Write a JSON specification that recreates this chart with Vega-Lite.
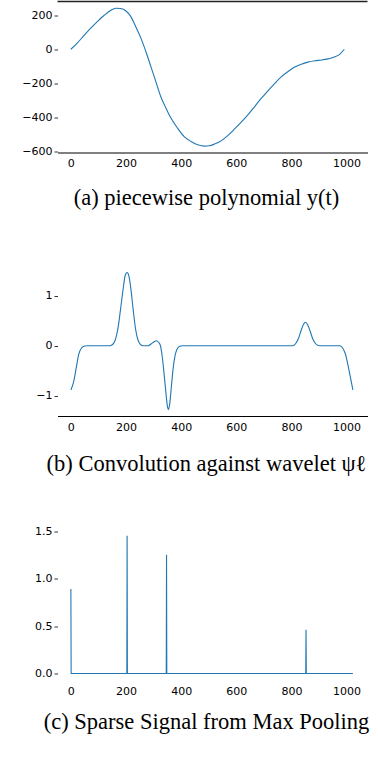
{
  "$schema": "https://vega.github.io/schema/vega-lite/v6.json",
  "autosize": {"type": "pad"},
  "padding": {"left": 21.5, "top": 0.5, "right": 5, "bottom": 0},
  "background": "white",
  "spacing": 112.5,
  "bounds": "flush",
  "config": {
    "view": {"stroke": null},
    "axis": {"labelFont": "DejaVu Sans", "labelFontSize": 11, "labelColor": "#000", "labelOverlap": false, "labelBound": false, "labelFlush": false, "grid": false, "title": null, "domainColor": "#000", "tickColor": "#000"},
    "title": {"font": "Liberation Serif", "fontSize": 22.5, "fontWeight": "normal", "color": "#000"}
  },
  "datasets": {
    "a": [
      {"t": 0, "y": 0}, {"t": 23, "y": 36}, {"t": 47, "y": 79}, {"t": 72, "y": 123}, {"t": 96, "y": 162},
      {"t": 120, "y": 197}, {"t": 144, "y": 227}, {"t": 163, "y": 240}, {"t": 181, "y": 238}, {"t": 199, "y": 225},
      {"t": 217, "y": 192}, {"t": 235, "y": 133}, {"t": 254, "y": 65}, {"t": 272, "y": -13}, {"t": 290, "y": -100},
      {"t": 308, "y": -188}, {"t": 326, "y": -276}, {"t": 345, "y": -344}, {"t": 363, "y": -402}, {"t": 387, "y": -461},
      {"t": 411, "y": -510}, {"t": 436, "y": -539}, {"t": 460, "y": -558}, {"t": 484, "y": -566}, {"t": 502, "y": -564},
      {"t": 521, "y": -554}, {"t": 545, "y": -535}, {"t": 569, "y": -504}, {"t": 593, "y": -467}, {"t": 618, "y": -426},
      {"t": 642, "y": -383}, {"t": 666, "y": -336}, {"t": 691, "y": -286}, {"t": 715, "y": -243}, {"t": 739, "y": -200},
      {"t": 763, "y": -161}, {"t": 788, "y": -130}, {"t": 812, "y": -104}, {"t": 836, "y": -87}, {"t": 860, "y": -75},
      {"t": 885, "y": -67}, {"t": 909, "y": -63}, {"t": 933, "y": -56}, {"t": 958, "y": -44}, {"t": 976, "y": -28},
      {"t": 992, "y": 0}
    ],
    "b": [
      {"t": 0, "y": -0.88}, {"t": 10, "y": -0.72}, {"t": 20, "y": -0.42}, {"t": 28, "y": -0.18}, {"t": 38, "y": -0.05},
      {"t": 50, "y": -0.005}, {"t": 60, "y": 0}, {"t": 140, "y": 0}, {"t": 150, "y": 0.02}, {"t": 160, "y": 0.1},
      {"t": 170, "y": 0.32}, {"t": 180, "y": 0.72}, {"t": 190, "y": 1.15}, {"t": 197, "y": 1.4}, {"t": 204, "y": 1.46},
      {"t": 211, "y": 1.38}, {"t": 218, "y": 1.12}, {"t": 226, "y": 0.72}, {"t": 234, "y": 0.36}, {"t": 242, "y": 0.14},
      {"t": 252, "y": 0.03}, {"t": 262, "y": 0}, {"t": 280, "y": 0}, {"t": 292, "y": 0.04}, {"t": 302, "y": 0.08},
      {"t": 310, "y": 0.1}, {"t": 318, "y": 0.07}, {"t": 325, "y": 0}, {"t": 331, "y": -0.2}, {"t": 338, "y": -0.55},
      {"t": 345, "y": -0.95}, {"t": 350, "y": -1.2}, {"t": 354, "y": -1.27}, {"t": 358, "y": -1.18}, {"t": 364, "y": -0.85},
      {"t": 370, "y": -0.5}, {"t": 377, "y": -0.22}, {"t": 385, "y": -0.07}, {"t": 395, "y": -0.01}, {"t": 405, "y": 0},
      {"t": 805, "y": 0}, {"t": 815, "y": 0.04}, {"t": 825, "y": 0.14}, {"t": 835, "y": 0.3}, {"t": 844, "y": 0.43},
      {"t": 851, "y": 0.47}, {"t": 859, "y": 0.42}, {"t": 868, "y": 0.29}, {"t": 878, "y": 0.13}, {"t": 888, "y": 0.04},
      {"t": 898, "y": 0.005}, {"t": 908, "y": 0}, {"t": 975, "y": 0}, {"t": 985, "y": -0.04}, {"t": 995, "y": -0.15},
      {"t": 1005, "y": -0.38}, {"t": 1013, "y": -0.6}, {"t": 1023, "y": -0.88}
    ],
    "c": [
      {"t": 0, "y": 0.89}, {"t": 1, "y": 0}, {"t": 203, "y": 0}, {"t": 204, "y": 1.45}, {"t": 205, "y": 0},
      {"t": 346, "y": 0}, {"t": 347, "y": 1.25}, {"t": 348, "y": 0}, {"t": 852, "y": 0}, {"t": 853, "y": 0.46},
      {"t": 854, "y": 0}, {"t": 1023, "y": 0}
    ]
  },
  "vconcat": [
    {
      "width": 310,
      "height": 151,
      "title": {"text": "(a) piecewise polynomial y(t)", "orient": "bottom", "anchor": "middle", "frame": "group", "offset": 18.5, "dx": -6},
      "layer": [
        {
          "data": {"name": "a"},
          "mark": {"type": "line", "color": "#1f77b4", "strokeWidth": 1.1, "interpolate": "monotone"},
          "encoding": {
            "x": {"field": "t", "type": "quantitative", "scale": {"domain": [-48.5, 1076], "nice": false, "zero": false},
              "axis": {"values": [0, 200, 400, 600, 800, 1000], "format": "d", "ticks": false, "labelPadding": 5, "domain": true, "domainWidth": 1}},
            "y": {"field": "y", "type": "quantitative", "scale": {"domain": [-603, 279], "nice": false, "zero": false},
              "axis": {"values": [-600, -400, -200, 0, 200], "labelOverlap": false, "domain": false, "tickSize": 3.5, "tickWidth": 0.8, "labelPadding": 2}}
          }
        },
        {
          "data": {"values": [{}]},
          "mark": {"type": "rule", "color": "#222", "strokeWidth": 1.3},
          "encoding": {"y": {"datum": 279, "type": "quantitative",
            "axis": {"values": [-600, -400, -200, 0, 200], "labelOverlap": false, "domain": false, "tickSize": 3.5, "tickWidth": 0.8, "labelPadding": 2}}}
        }
      ]
    },
    {
      "width": 310,
      "height": 151,
      "title": {"text": "(b) Convolution against wavelet ψℓ", "orient": "bottom", "anchor": "middle", "frame": "group", "offset": 21, "dx": -6},
      "data": {"name": "b"},
      "mark": {"type": "line", "color": "#1f77b4", "strokeWidth": 1.1, "interpolate": "monotone"},
      "encoding": {
        "x": {"field": "t", "type": "quantitative", "scale": {"domain": [-48.5, 1076], "nice": false, "zero": false},
          "axis": {"values": [0, 200, 400, 600, 800, 1000], "format": "d", "ticks": false, "labelPadding": 5, "domain": true, "domainWidth": 1}},
        "y": {"field": "y", "type": "quantitative", "scale": {"domain": [-1.4, 1.61], "nice": false, "zero": false},
          "axis": {"values": [-1, 0, 1], "domain": false, "tickSize": 3.5, "tickWidth": 0.8, "labelPadding": 2}}
      }
    },
    {
      "width": 310,
      "height": 152,
      "title": {"text": "(c) Sparse Signal from Max Pooling", "orient": "bottom", "anchor": "middle", "frame": "group", "offset": 14, "dx": -6},
      "data": {"name": "c"},
      "mark": {"type": "line", "color": "#1f77b4", "strokeWidth": 1.1},
      "encoding": {
        "x": {"field": "t", "type": "quantitative", "scale": {"domain": [-48.5, 1076], "nice": false, "zero": false},
          "axis": {"values": [0, 200, 400, 600, 800, 1000], "format": "d", "ticks": false, "labelPadding": 5, "domain": false}},
        "y": {"field": "y", "type": "quantitative", "scale": {"domain": [-0.073, 1.527], "nice": false, "zero": false},
          "axis": {"values": [0, 0.5, 1, 1.5], "format": ".1f", "domain": false, "tickSize": 3.5, "tickWidth": 0.8, "labelPadding": 2}}
      }
    }
  ]
}
